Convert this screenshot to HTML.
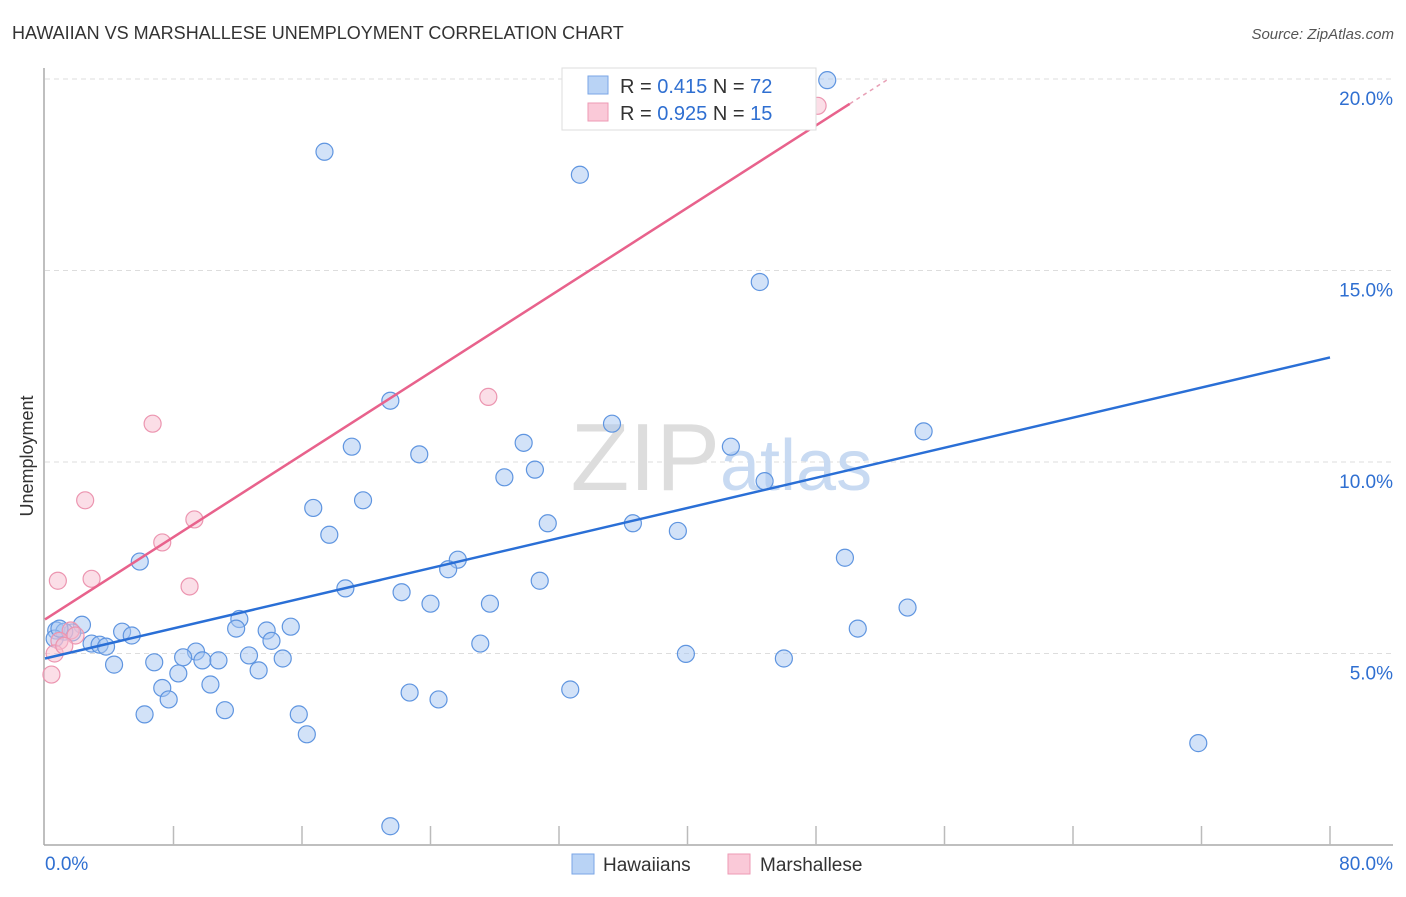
<!DOCTYPE html>
<html><head><meta charset="utf-8"><style>
body{margin:0;background:#fff;font-family:"Liberation Sans",sans-serif}
svg text{font-family:"Liberation Sans",sans-serif}
</style></head><body>
<svg width="1406" height="892" xmlns="http://www.w3.org/2000/svg">
<text x="12" y="39" font-size="18" fill="#333">HAWAIIAN VS MARSHALLESE UNEMPLOYMENT CORRELATION CHART</text>
<text x="1394" y="39" font-size="15" fill="#555" font-style="italic" text-anchor="end">Source: ZipAtlas.com</text>
<text x="33" y="456" font-size="18" fill="#333" text-anchor="middle" transform="rotate(-90 33 456)">Unemployment</text>
<g id="grid"></g>
<text x="720" y="490" font-size="96" fill="#ddd" text-anchor="end" font-family="Liberation Serif">ZIP</text>
<text x="720" y="490" font-size="72" fill="#c8daf2">atlas</text>
<g id="axes"></g>
<g id="pts"></g>
<g id="lines"></g>
<g>
<rect x="562" y="68" width="254" height="62" fill="#fff" stroke="#ddd"/>
<rect x="588" y="76" width="20" height="18" fill="#b9d3f5" stroke="#7aa6e6"/>
<rect x="588" y="103" width="20" height="18" fill="#fac9d8" stroke="#ee9ab4"/>
<text x="620" y="93" font-size="20" fill="#333">R = <tspan fill="#2f6fd1">0.415</tspan>   N = <tspan fill="#2f6fd1">72</tspan></text>
<text x="620" y="120" font-size="20" fill="#333">R = <tspan fill="#2f6fd1">0.925</tspan>   N = <tspan fill="#2f6fd1">15</tspan></text>
</g>
<g>
<rect x="572" y="854" width="22" height="20" fill="#b9d3f5" stroke="#7aa6e6"/>
<text x="603" y="871" font-size="19" fill="#333">Hawaiians</text>
<rect x="728" y="854" width="22" height="20" fill="#fac9d8" stroke="#ee9ab4"/>
<text x="760" y="871" font-size="19" fill="#333">Marshallese</text>
</g>
</svg>
<script>
const yTicks=[5,10,15,20];
const yTickLabels=["5.0%","10.0%","15.0%","20.0%"];
const xTickLabels=["0.0%","80.0%"];
const hawX=[48.7,17.4,33.3,44.5,21.5,35.3,19.1,23.3,29.8,42.7,54.7,28.6,30.5,44.8,16.7,19.8,17.7,31.3,36.6,39.4,5.9,49.8,25.7,25.1,18.7,30.8,22.2,24.0,27.7,53.7,12.1,11.9,15.3,13.8,50.6,2.3,0.7,1.7,4.8,5.4,2.9,3.4,3.8,14.1,27.1,9.4,8.6,6.8,9.8,10.8,12.7,14.8,4.3,39.9,46.0,13.3,8.3,7.3,10.3,7.7,22.7,32.7,11.2,6.2,15.8,24.5,16.3,71.8,21.5,1.2,0.6,0.9];
const hawY=[19.97,18.1,17.5,14.7,11.6,11.0,10.4,10.2,10.5,10.4,10.8,9.6,9.8,9.5,8.8,9.0,8.1,8.4,8.4,8.2,7.4,7.5,7.45,7.2,6.7,6.9,6.6,6.3,6.3,6.2,5.9,5.65,5.7,5.6,5.65,5.75,5.6,5.55,5.57,5.47,5.26,5.23,5.18,5.33,5.26,5.05,4.9,4.77,4.82,4.82,4.95,4.87,4.71,4.99,4.87,4.56,4.48,4.1,4.19,3.8,3.98,4.06,3.52,3.41,3.41,3.8,2.89,2.66,0.49,5.57,5.39,5.65];
const marX=[48.1,27.6,6.7,2.5,9.3,7.3,0.8,2.9,9.0,1.6,0.9,0.6,0.4,1.9,1.2];
const marY=[19.3,11.7,11.0,9.0,8.5,7.9,6.9,6.95,6.75,5.6,5.33,5.0,4.45,5.47,5.2];
const hawLine=[4.87,12.73];
const marLine=[5.89,0.2687];
const NS="http://www.w3.org/2000/svg";
const X=v=>45+v/80*1285, Y=v=>845-v/5*191.5;
function mk(p,t,a){const e=document.createElementNS(NS,t);for(const k in a)e.setAttribute(k,a[k]);document.getElementById(p).appendChild(e);return e;}
yTicks.forEach((t,i)=>{
 const l=mk('grid','line',{x1:45,x2:1393,y1:Y(t),y2:Y(t),stroke:'#ddd','stroke-dasharray':'5 4'});
 
 
 const tx=mk('grid','text',{x:1393,y:Y(t)+26,'font-size':19,fill:'#2f6fd1','text-anchor':'end'});
 tx.textContent=yTickLabels[i];
 
 
});
const ax=mk('axes','line',{x1:44,x2:44,y1:68,y2:845,stroke:'#aaa','stroke-width':1.5});


const bx=mk('axes','line',{x1:44,x2:1393,y1:845,y2:845,stroke:'#aaa','stroke-width':1.5});


for(let i=1;i<=10;i++){const t=mk('axes','line',{x1:X(i*8),x2:X(i*8),y1:826,y2:845,stroke:'#bbb','stroke-width':1.5});
 
 }
[[0,'start',45],[80,'end',1393]].forEach((d,i)=>{const t=mk('axes','text',{x:d[2],y:870,'font-size':19,fill:'#2f6fd1','text-anchor':d[1]});
 t.textContent=xTickLabels[i];
 
 });
hawX.forEach((x,i)=>{const c=mk('pts','circle',{cx:X(x),cy:Y(hawY[i]),r:8.5,fill:'rgba(165,198,242,0.5)',stroke:'#5f95e0','stroke-width':1.2});
 
 });
marX.forEach((x,i)=>{const c=mk('pts','circle',{cx:X(x),cy:Y(marY[i]),r:8.5,fill:'rgba(248,190,208,0.5)',stroke:'#ec95b0','stroke-width':1.2});
 
 });
const hl=mk('lines','line',{x1:X(0),y1:Y(hawLine[0]),x2:X(80),y2:Y(hawLine[1]),stroke:'#2a6fd6','stroke-width':2.5});


const mEnd=50.1;
const ml=mk('lines','line',{x1:X(0),y1:Y(marLine[0]),x2:X(mEnd),y2:Y(marLine[0]+marLine[1]*mEnd),stroke:'#e8628c','stroke-width':2.5});


const md=mk('lines','line',{x1:X(mEnd),y1:Y(marLine[0]+marLine[1]*mEnd),x2:X(52.4),y2:Y(marLine[0]+marLine[1]*52.4),stroke:'#e8a0b6','stroke-width':1.5,'stroke-dasharray':'4 4'});


</script>
</body></html>
